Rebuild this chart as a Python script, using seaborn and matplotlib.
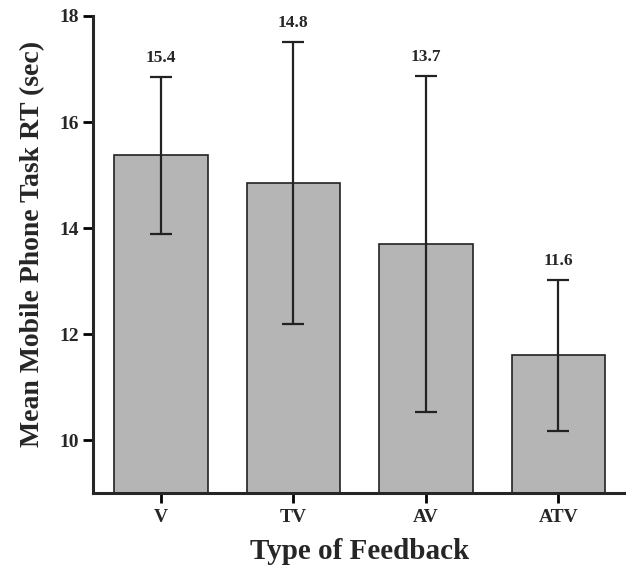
import matplotlib
matplotlib.use("Agg")
import matplotlib.pyplot as plt
import seaborn as sns
import numpy as np

categories = ["V", "TV", "AV", "ATV"]
means = [15.37, 14.85, 13.70, 11.60]
errors = [1.48, 2.66, 3.16, 1.42]
value_labels = ["15.4", "14.8", "13.7", "11.6"]
y_ticks = [10, 12, 14, 16, 18]

sns.set_style("ticks")
plt.rcParams['font.family'] = ['Liberation Serif', 'DejaVu Serif']
plt.rcParams['font.weight'] = 'bold'

fig = plt.figure(figsize=(6.26, 5.69), dpi=100)
ax = fig.add_axes([0.1486, 0.133, 0.8514, 0.839])

sns.barplot(x=categories, y=means, ax=ax, color="#b5b5b5", saturation=1,
            edgecolor="#222222", linewidth=1.2, width=0.706, errorbar=None)
ax.errorbar(np.arange(len(categories)), means, yerr=errors, fmt="none",
            ecolor="#222222", elinewidth=1.6, capsize=7.7, capthick=1.6)

for i, (m, e, lab) in enumerate(zip(means, errors, value_labels)):
    ax.annotate(lab, (i, m + e), xytext=(0, 8), textcoords="offset points",
                ha="center", va="bottom", fontsize=12.5, fontweight="bold")

ax.set_ylim(9, 18)
ax.set_xlim(-0.512, 3.51)
ax.set_yticks(y_ticks)
ax.set_yticklabels([str(t) for t in y_ticks])
ax.tick_params(axis="both", length=7, width=2, labelsize=14, pad=3, color="black")
ax.tick_params(axis="x", pad=4)
for lab in ax.get_xticklabels() + ax.get_yticklabels():
    lab.set_fontweight("bold")
ax.set_xlabel("Type of Feedback", fontsize=21, fontweight="bold", labelpad=9)
ax.set_ylabel("Mean Mobile Phone Task RT (sec)", fontsize=20, fontweight="bold")
ax.yaxis.set_label_coords(-0.09, 0.522)
ax.spines["left"].set_linewidth(2.2)
ax.spines["bottom"].set_linewidth(2.2)
ax.spines["right"].set_visible(False)
ax.spines["top"].set_visible(False)

fig.savefig("out.png", dpi=100)
